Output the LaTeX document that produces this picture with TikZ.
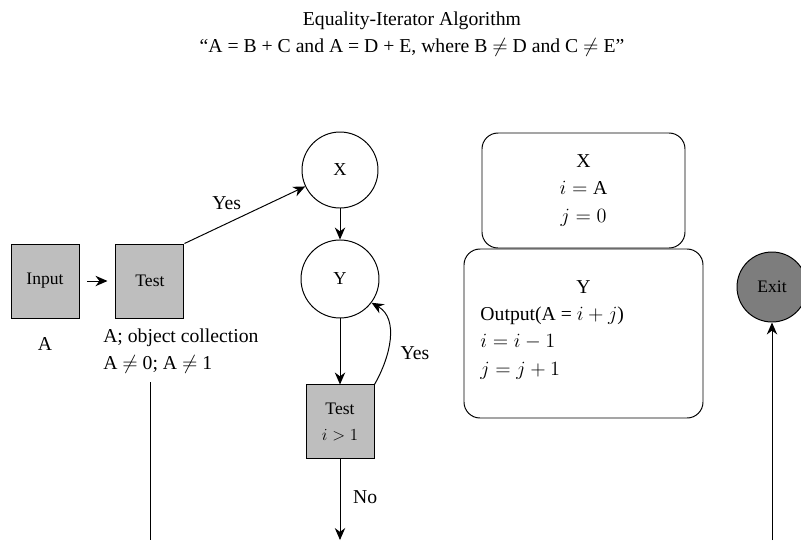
\documentclass[tikz,border=0pt]{standalone}
\usepackage{fontspec}
\setmainfont{Liberation Serif}
\usepackage{tikz}
\usetikzlibrary{arrows.meta,positioning,calc}
\definecolor{BoxGray}{HTML}{BEBEBE}
\definecolor{ExitGray}{HTML}{7D7D7D}
\tikzset{
    % grey process boxes
    graybox/.style={
        rectangle,
        draw=black,
        fill=BoxGray,
        line width=0.7pt,
        minimum width=1.7cm,
        minimum height=1.85cm,
        align=center,
        font=\fontsize{12.5}{19}\selectfont
    },
    statecircle/.style={
        circle,
        draw=black,
        fill=white,
        line width=0.7pt,
        minimum size=1.9cm,
        font=\fontsize{13}{14}\selectfont
    },
    exitcircle/.style={
        circle,
        draw=black,
        fill=ExitGray,
        line width=0.7pt,
        minimum size=1.75cm,
        font=\fontsize{12.5}{14}\selectfont
    },
    codebox/.style={
        rectangle,
        rounded corners=0.4cm,
        draw=black,
        line width=0.7pt,
        align=center,
        font=\fontsize{14}{19.5}\selectfont
    },
    plain/.style={
        font=\fontsize{14}{19.5}\selectfont
    },
    arrow/.style={
        -{Stealth[length=3mm,width=2.6mm]},
        line width=0.7pt
    }
}

\begin{document}
\begin{tikzpicture}
    \useasboundingbox (0,0) rectangle (20.025,-13.5);
    \coordinate (bottom) at (0,-13.5);

    \node[plain, align=center] (title) at (10.3,-0.85)
        {Equality-Iterator Algorithm\\
         ``A = B + C and A = D + E, where B $\neq$ D and C $\neq$ E''};

    % left column
    \node[graybox] (input) at (1.125,-7.025) {Input};
    \node[graybox, right=0.9cm of input] (test) {Test};
    \node[plain, below=0.35cm of input] (inval) {A};
    \node[plain, align=left, anchor=north west] (testinfo)
        at ([xshift=-0.43cm,yshift=-0.13cm]test.south west)
        {A; object collection\\A $\neq$ 0; A $\neq$ 1};
    \coordinate (lstart) at (3.75,-9.55);

    % loop
    \node[statecircle] (xnode) at (8.5,-4.25) {X};
    \node[statecircle, minimum size=1.95cm, below=0.775cm of xnode] (ynode) {Y};
    \node[graybox, below=1.65cm of ynode] (test2) {Test\\$i > 1$};

    % code boxes
    \node[codebox, minimum width=5.075cm, minimum height=2.875cm] (xbox)
        at (14.5875,-4.7625) {X\\$i = \mathrm{A}$\\$j = 0$};
    \node[codebox, minimum width=5.975cm, minimum height=4.225cm] (ybox)
        at (14.5875,-8.3375) {};
    \node[plain, below=0.68cm of ybox.north] (ytitle) {Y};
    \node[plain, align=left, anchor=north west] (ybody)
        at ([xshift=0.3cm,yshift=-1.33cm]ybox.north west)
        {Output(A = $i + j$)\\$i = i - 1$\\$j = j + 1$};

    \node[exitcircle] (exit) at (19.3,-7.175) {Exit};

    % Arrows
    \draw[arrow, shorten <=0.2cm, shorten >=0.2cm] (input) -- (test);
    \draw[arrow] (test.north east) -- node[plain, pos=0.35, above=0.22cm] {Yes} (xnode);
    \draw[arrow] (xnode) -- (ynode);
    \draw[arrow] (ynode) -- (test2);
    \draw[arrow] (test2.north east) to[out=60, in=-30]
        node[plain, pos=0.35, right=0.2cm] {Yes} (ynode.-37);
    \draw[arrow] (test2.south) -- node[plain, pos=0.47, right=0.2cm] {No} (test2.south |- bottom);
    \draw[line width=0.7pt] (lstart) -- (lstart |- bottom);
    \draw[arrow] (exit.south |- bottom) -- (exit.south);
\end{tikzpicture}
\end{document}
